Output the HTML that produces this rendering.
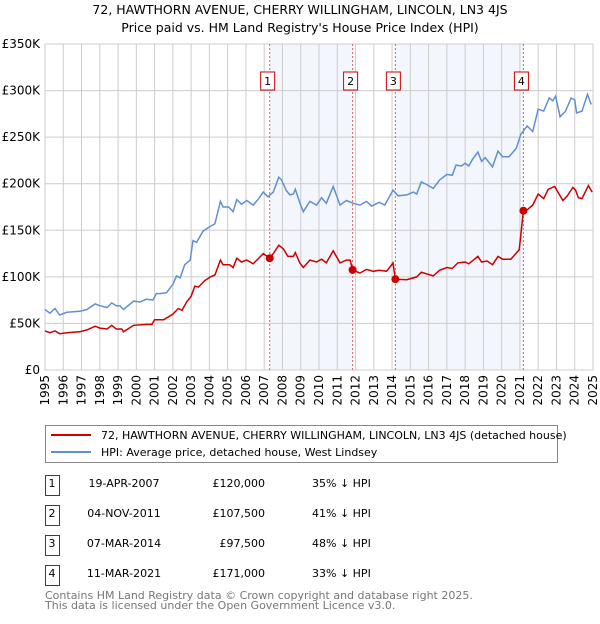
<!DOCTYPE html>
<html><head><meta charset="utf-8"><style>
body{margin:0;background:#fff;width:600px;height:620px;overflow:hidden;font-family:"DejaVu Sans","Liberation Sans",sans-serif;}
svg text{font-family:"DejaVu Sans","Liberation Sans",sans-serif;}
</style></head><body>
<svg id="chart" width="600" height="620" xmlns="http://www.w3.org/2000/svg">
<text x="300" y="14" text-anchor="middle" font-size="12.5">72, HAWTHORN AVENUE, CHERRY WILLINGHAM, LINCOLN, LN3 4JS</text>
<text x="300" y="32" text-anchor="middle" font-size="12.5">Price paid vs. HM Land Registry's House Price Index (HPI)</text>
<g id="plot"></g>
<g>
<rect x="45.5" y="425.5" width="512" height="37" fill="#fff" stroke="#888"/>
<line x1="51" y1="435" x2="91" y2="435" stroke="#cc0000" stroke-width="2"/>
<text x="101" y="439" font-size="11">72, HAWTHORN AVENUE, CHERRY WILLINGHAM, LINCOLN, LN3 4JS (detached house)</text>
<line x1="51" y1="452" x2="91" y2="452" stroke="#6090d0" stroke-width="2"/>
<text x="101" y="456" font-size="11">HPI: Average price, detached house, West Lindsey</text>
</g>
<g id="table"></g>
<text x="45" y="599" font-size="11" fill="#777">Contains HM Land Registry data © Crown copyright and database right 2025.</text>
<text x="45" y="609" font-size="11" fill="#777">This data is licensed under the Open Government Licence v3.0.</text>
</svg>
<script>
const hpiYears=[1995.0,1995.27,1995.55,1995.8,1996.2,1996.9,1997.3,1997.75,1998.0,1998.4,1998.65,1998.9,1999.1,1999.3,1999.85,2000.2,2000.55,2000.9,2001.1,2001.3,2001.65,2002.0,2002.2,2002.4,2002.65,2002.95,2003.1,2003.3,2003.65,2003.95,2004.3,2004.6,2004.75,2005.05,2005.3,2005.5,2005.75,2006.05,2006.4,2006.7,2006.95,2007.2,2007.5,2007.8,2007.95,2008.2,2008.4,2008.6,2008.7,2008.96,2009.14,2009.5,2009.87,2010.14,2010.4,2010.78,2011.15,2011.5,2011.88,2012.24,2012.6,2012.88,2013.3,2013.6,2014.05,2014.33,2014.8,2015.17,2015.35,2015.6,2015.9,2016.25,2016.6,2017.0,2017.3,2017.5,2017.8,2018.0,2018.2,2018.4,2018.7,2018.9,2019.1,2019.5,2019.8,2020.05,2020.4,2020.8,2021.05,2021.4,2021.7,2022.0,2022.3,2022.6,2022.8,2022.95,2023.2,2023.5,2023.8,2024.0,2024.1,2024.4,2024.7,2024.9];
const hpiValues=[65,61,66,59,62,63,65,71,69,67,72,69,69,65,74,73,76,75,82,82,83,92,101,99,113,118,139,137,149,153,157,181,175,175,170,183,178,182,177,184,191,186,191,207,204,193,188,189,194,179,170,181,177,185,179,197,177,182,179,177,181,176,180,177,193,187,188,191,189,202,199,195,204,210,209,220,219,222,219,226,234,224,228,218,235,229,229,238,253,262,256,280,278,292,289,294,272,278,292,290,276,278,296,285];
const priceYears=[1995.0,1995.27,1995.55,1995.8,1996.2,1996.9,1997.3,1997.75,1998.0,1998.4,1998.65,1998.9,1999.2,1999.3,1999.85,2000.55,2000.85,2001.0,2001.5,2002.0,2002.3,2002.5,2002.75,2003.0,2003.2,2003.4,2003.75,2004.05,2004.3,2004.6,2004.75,2005.1,2005.3,2005.5,2005.75,2006.05,2006.4,2006.95,2007.3,2007.5,2007.8,2008.05,2008.3,2008.6,2008.7,2008.95,2009.14,2009.5,2009.87,2010.14,2010.4,2010.78,2011.15,2011.5,2011.7,2011.84,2012.24,2012.6,2012.97,2013.3,2013.7,2014.05,2014.18,2014.8,2015.35,2015.6,2016.25,2016.6,2017.0,2017.3,2017.6,2018.0,2018.2,2018.7,2018.9,2019.2,2019.5,2019.8,2020.05,2020.5,2020.96,2021.19,2021.4,2021.7,2022.0,2022.3,2022.55,2022.9,2023.35,2023.6,2023.9,2024.05,2024.2,2024.4,2024.75,2024.95];
const priceValues=[42,40,42,39,40,41,43,47,45,44,48,44,44,41,48,49,49,54,54,60,66,64,73,79,90,89,96,100,102,118,113,113,110,120,116,118,114,125,120,125,134,130,122,122,126,115,110,118,116,119,115,128,115,118,118,107.5,104,108,106,107,106,115,97.5,97,100,105,101,107,110,109,115,116,114,122,116,117,113,122,119,119,129,171,172,177,189,184,194,197,182,187,196,193,185,184,198,191];
const saleLabels=["1","2","3","4"];
const saleYears=[2007.30,2011.84,2014.18,2021.19];
const saleValues=[120,107.5,97.5,171];
const saleDates=["19-APR-2007","04-NOV-2011","07-MAR-2014","11-MAR-2021"];
const salePrices=["£120,000","£107,500","£97,500","£171,000"];
const saleDiffs=["35% ↓ HPI","41% ↓ HPI","48% ↓ HPI","33% ↓ HPI"];
const yTicks=[0,50,100,150,200,250,300,350];
const yTickLabels=["£0","£50K","£100K","£150K","£200K","£250K","£300K","£350K"];
const xTicks=[1995,1996,1997,1998,1999,2000,2001,2002,2003,2004,2005,2006,2007,2008,2009,2010,2011,2012,2013,2014,2015,2016,2017,2018,2019,2020,2021,2022,2023,2024,2025];

const L=45,R=593,T=44,B=370;
const xs=y=>L+(y-1995)/30*(R-L);
const ys=v=>B-v/350*(B-T);
const NS="http://www.w3.org/2000/svg";
const plot=document.getElementById('plot');
function mk(tag,attrs,parent){const e=document.createElementNS(NS,tag);for(const k in attrs)e.setAttribute(k,attrs[k]);(parent||plot).appendChild(e);return e;}

for(let i=0;i<saleYears.length;i+=2){
  const x1=xs(saleYears[i]);const x2=i+1<saleYears.length?xs(saleYears[i+1]):R;
  const r=mk('rect',{x:x1,y:T,width:x2-x1,height:B-T,fill:'#f0f4fd',opacity:0.8});
  
  
}
yTicks.forEach((v,i)=>{
  const g=mk('line',{x1:L,x2:R,y1:ys(v),y2:ys(v),stroke:'#ccc','stroke-width':1});
  
  
  const t=mk('text',{x:L-5,y:ys(v)+4,'text-anchor':'end','font-size':12});
  
  
  t.textContent=yTickLabels[i];
});
xTicks.forEach(y=>{
  const x=xs(y);
  const g=mk('line',{x1:x,x2:x,y1:T,y2:B,stroke:'#ccc','stroke-width':1});
  
  
  const t=mk('text',{x:0,y:0,'text-anchor':'end','font-size':12,transform:`translate(${x+4},${B+5}) rotate(-90)`});
  
  
  t.textContent=y;
});
const fr=mk('rect',{x:L,y:T,width:R-L,height:B-T,fill:'none',stroke:'#ccc'});


saleYears.forEach((y,i)=>{
  const x=xs(y);
  const l=mk('line',{x1:x,x2:x,y1:T,y2:B,stroke:'#e06060','stroke-dasharray':'2,2','stroke-width':1});
  
  
  const b=mk('rect',{x:x-9,y:72,width:14,height:18,fill:'#fff',stroke:'#cc0000'});
  
  
  const t=mk('text',{x:x-2,y:85,'text-anchor':'middle','font-size':11});
  
  
  t.textContent=saleLabels[i];
});
function path(xa,va){return xa.map((y,i)=>(i?'L':'M')+xs(y).toFixed(1)+','+ys(va[i]).toFixed(1)).join('');}
const hp=mk('path',{d:path(hpiYears,hpiValues),fill:'none',stroke:'#6090d0','stroke-width':1.5});


const pp=mk('path',{d:path(priceYears,priceValues),fill:'none',stroke:'#cc0000','stroke-width':1.5});


saleYears.forEach((y,i)=>{
  const c=mk('circle',{cx:xs(y),cy:ys(saleValues[i]),r:4,fill:'#cc0000'});
  
  
});
const tb=document.getElementById('table');
const rowY=[483,513,543,573];
saleLabels.forEach((s,i)=>{
  const y=rowY[i];
  const b=mk('rect',{x:45.5,y:y-7.5,width:14,height:20,fill:'#fff',stroke:'#cc0000'},tb);
  
  
  const cells=[[52,'middle',s],[124,'middle',saleDates[i]],[265,'end',salePrices[i]],[312,'start',saleDiffs[i]]];
  cells.forEach(c=>{
    const t=mk('text',{x:c[0],y:y+4,'text-anchor':c[1],'font-size':11},tb);
    
    
    t.textContent=c[2];
  });
});
</script>
</body></html>
